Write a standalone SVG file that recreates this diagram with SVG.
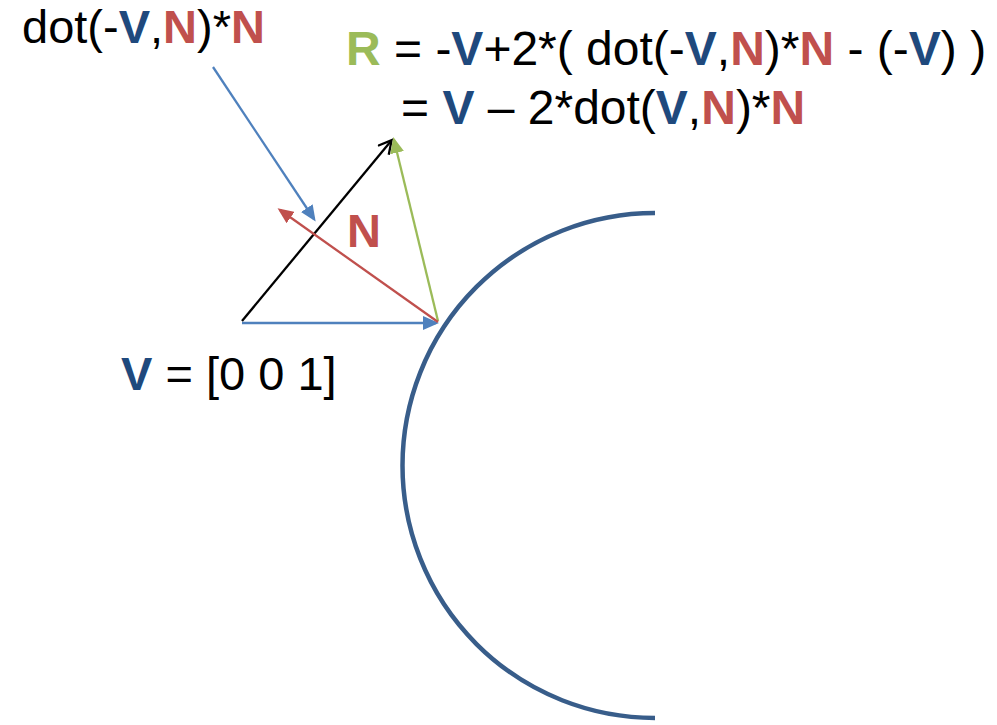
<svg xmlns="http://www.w3.org/2000/svg" width="997" height="725" viewBox="0 0 997 725">
<style>
text{font-family:"Liberation Sans",Arial,sans-serif;font-size:47px;fill:#000}
.b{font-weight:bold}
.v{fill:#1F497D}
.n{fill:#C0504D}
.r{fill:#9BBB59}
.vec{stroke-width:2.3;fill:none}
</style>
<defs>
<marker id="hb" markerUnits="userSpaceOnUse" markerWidth="16" markerHeight="14" refX="13" refY="7" orient="auto"><path d="M0,0 L16,7 L0,14 z" fill="#4F81BD"/></marker>
<marker id="hr" markerUnits="userSpaceOnUse" markerWidth="16" markerHeight="14" refX="13" refY="7" orient="auto"><path d="M0,0 L16,7 L0,14 z" fill="#C0504D"/></marker>
<marker id="hg" markerUnits="userSpaceOnUse" markerWidth="16" markerHeight="14" refX="13" refY="7" orient="auto"><path d="M0,0 L16,7 L0,14 z" fill="#9BBB59"/></marker>
<marker id="hk" markerUnits="userSpaceOnUse" markerWidth="16" markerHeight="16" refX="13" refY="8" orient="auto"><path d="M1,1 L14,8 L1,15" fill="none" stroke="#000" stroke-width="2.3"/></marker>
</defs>
<rect width="997" height="725" fill="#fff"/>
<g id="surface">
<path d="M655,213 A252.5,252.5 0 0 0 655,718" fill="none" stroke="#385D8A" stroke-width="4.5"/>
</g>
<g id="connectors">
<line class="vec" x1="242" y1="323" x2="436" y2="323" stroke="#4F81BD" marker-end="url(#hb)"/>
<line class="vec" x1="242" y1="321" x2="391" y2="141" stroke="#000" marker-end="url(#hk)"/>
<line class="vec" x1="438" y1="321" x2="394" y2="140" stroke="#9BBB59" marker-end="url(#hg)"/>
<line class="vec" x1="438" y1="322" x2="280" y2="210" stroke="#C0504D" marker-end="url(#hr)"/>
<line class="vec" x1="213" y1="67" x2="314" y2="219" stroke="#4F81BD" marker-end="url(#hb)"/>
</g>
<g id="label-dot">
<text x="22" y="43">dot(-<tspan class="b v">V</tspan>,<tspan class="b n">N</tspan>)*<tspan class="b n">N</tspan></text>
</g>
<g id="label-formula">
<text x="346" y="65" style="font-size:48px"><tspan class="b r">R</tspan> = -<tspan class="b v">V</tspan>+2*( dot(-<tspan class="b v">V</tspan>,<tspan class="b n">N</tspan>)*<tspan class="b n">N</tspan> - (-<tspan class="b v">V</tspan>) )</text>
<text x="401" y="124" style="font-size:48px">= <tspan class="b v">V</tspan> – 2*dot(<tspan class="b v">V</tspan>,<tspan class="b n">N</tspan>)*<tspan class="b n">N</tspan></text>
</g>
<g id="label-N">
<text x="347" y="247" class="b n">N</text>
</g>
<g id="label-V">
<text x="121" y="390" fill="#1F497D"><tspan class="b v">V</tspan> = [0 0 1]</text>
</g>
</svg>
